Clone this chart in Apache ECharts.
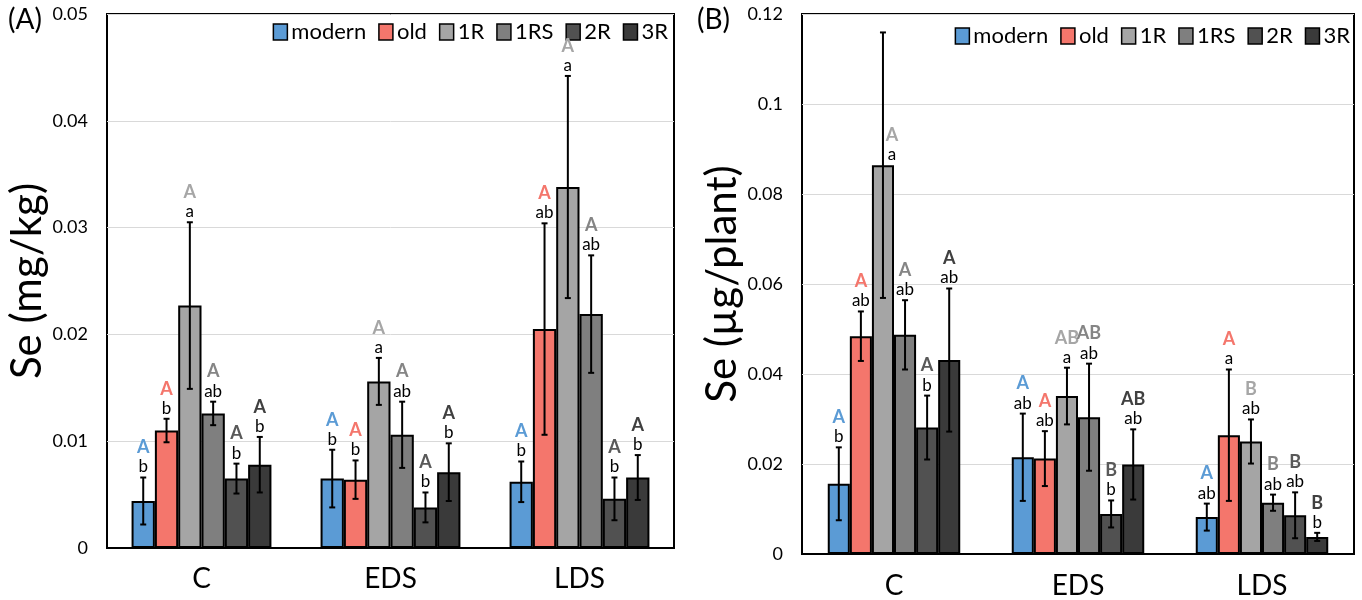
<!DOCTYPE html>
<html>
<head>
<meta charset="utf-8">
<script src="https://cdn.jsdelivr.net/npm/echarts@6/dist/echarts.min.js"></script>
<style>
  html, body { margin: 0; padding: 0; background: #fff; }
  #chart { width: 1362px; height: 600px; }
</style>
</head>
<body>
<div id="chart"></div>
<script>
// categories and groups
const categories = ['C', 'EDS', 'LDS'];
const groups = ['modern', 'old', '1R', '1RS', '2R', '3R'];

// (A) Se concentration (mg/kg), rows = groups, cols = categories
const meanA = [
  [0.0044, 0.0065, 0.0062],
  [0.0110, 0.0064, 0.0205],
  [0.0227, 0.0156, 0.0338],
  [0.0126, 0.0106, 0.0219],
  [0.0065, 0.0038, 0.0046],
  [0.0078, 0.0071, 0.0066]
];
const errA = [
  [0.0022, 0.0027, 0.0019],
  [0.0011, 0.0018, 0.0099],
  [0.0078, 0.0022, 0.0104],
  [0.0011, 0.0031, 0.0055],
  [0.0014, 0.0014, 0.0020],
  [0.0026, 0.0027, 0.0021]
];
const upperA = [
  ['A', 'A', 'A'], ['A', 'A', 'A'], ['A', 'A', 'A'],
  ['A', 'A', 'A'], ['A', 'A', 'A'], ['A', 'A', 'A']
];
const lowerA = [
  ['b', 'b', 'b'], ['b', 'b', 'ab'], ['a', 'a', 'a'],
  ['ab', 'ab', 'ab'], ['b', 'b', 'b'], ['b', 'b', 'b']
];

// (B) Se content (ug/plant)
const meanB = [
  [0.0156, 0.0215, 0.0082],
  [0.0484, 0.0212, 0.0264],
  [0.0864, 0.0351, 0.0250],
  [0.0487, 0.0304, 0.0114],
  [0.0281, 0.0089, 0.0086],
  [0.0431, 0.0199, 0.0038]
];
const errB = [
  [0.0081, 0.0097, 0.0030],
  [0.0055, 0.0061, 0.0146],
  [0.0295, 0.0063, 0.0049],
  [0.0077, 0.0119, 0.0018],
  [0.0071, 0.0030, 0.0051],
  [0.0159, 0.0078, 0.0009]
];
const upperB = [
  ['A', 'A', 'A'], ['A', 'A', 'A'], ['A', 'AB', 'B'],
  ['A', 'AB', 'B'], ['A', 'B', 'B'], ['A', 'AB', 'B']
];
const lowerB = [
  ['b', 'ab', 'ab'], ['ab', 'ab', 'a'], ['a', 'a', 'ab'],
  ['ab', 'ab', 'ab'], ['b', 'b', 'ab'], ['ab', 'ab', 'b']
];

const barColors = ['#5B9BD5', '#F4766C', '#A5A5A5', '#7F7F7F', '#515151', '#3A3A3A'];
const letterColors = ['#5B9BD5', '#F4766C', '#A6A6A6', '#858585', '#595959', '#404040'];
const FONT = 'Lato';

const chart = echarts.init(document.getElementById('chart'));

function barSeries(means, idx) {
  return groups.map(function (g, s) {
    return {
      name: g,
      type: 'bar',
      xAxisIndex: idx,
      yAxisIndex: idx,
      barGap: '0%',
      barCategoryGap: idx === 0 ? '26%' : '28%',
      itemStyle: { color: barColors[s], borderColor: '#000', borderWidth: 2 },
      data: means[s]
    };
  });
}

// error bars + significance letters, placed in the same slots as the bars
function errSeries(means, errs, upper, lower, idx, gapFrac, yMax) {
  const rows = [];
  groups.forEach(function (g, s) {
    categories.forEach(function (c, k) {
      rows.push([k, s, means[s][k], errs[s][k], upper[s][k], lower[s][k]]);
    });
  });
  return {
    type: 'custom',
    xAxisIndex: idx,
    yAxisIndex: idx,
    z: 5,
    encode: { x: 0, y: 2 },
    data: rows,
    renderItem: function (params, api) {
      const k = api.value(0);
      const s = api.value(1);
      const m = api.value(2);
      const e = api.value(3);
      const band = api.size([1, 0])[0];
      const gw = band * (1 - gapFrac);
      const bw = gw / groups.length;
      const hi = api.coord([k, m + e]);
      const lo = api.coord([k, m - e]);
      const bar = api.coord([k, m]);
      const top = api.coord([k, yMax]);
      const x = hi[0] - gw / 2 + (s + 0.5) * bw;
      // letters sit above the error bar, or beside it on the bar top when no room
      let tx = x, ty = hi[1];
      if (hi[1] - 42 < top[1]) { tx = x + 9; ty = bar[1]; }
      const cap = 3;
      const st = { stroke: '#000', lineWidth: 2 };
      return {
        type: 'group',
        children: [
          { type: 'line', shape: { x1: x, y1: hi[1], x2: x, y2: lo[1] }, style: st },
          { type: 'line', shape: { x1: x - cap, y1: hi[1], x2: x + cap, y2: hi[1] }, style: st },
          { type: 'line', shape: { x1: x - cap, y1: lo[1], x2: x + cap, y2: lo[1] }, style: st },
          { type: 'text', x: tx, y: ty - 2,
            style: { text: api.value(5), fill: '#000', font: '17px ' + FONT,
                     align: 'center', verticalAlign: 'bottom' } },
          { type: 'text', x: tx, y: ty - 21,
            style: { text: api.value(4), fill: letterColors[s], font: 'bold 18px ' + FONT,
                     align: 'center', verticalAlign: 'bottom' } }
        ]
      };
    }
  };
}

function yAxis(idx, max, interval, name) {
  return {
    type: 'value',
    gridIndex: idx,
    min: 0,
    max: max,
    interval: interval,
    name: name,
    nameLocation: 'middle',
    nameGap: 41,
    nameTextStyle: { fontFamily: FONT, fontSize: 42, color: '#000' },
    axisLine: { show: false },
    axisTick: { show: false },
    axisLabel: { fontFamily: FONT, fontSize: 18, color: '#000', margin: 19 },
    splitLine: { lineStyle: { color: '#D9D9D9', width: 1 } }
  };
}

function xAxis(idx, margin) {
  return {
    type: 'category',
    gridIndex: idx,
    data: categories,
    axisLine: { lineStyle: { color: '#000', width: 2 } },
    axisTick: { show: false },
    axisLabel: { fontFamily: FONT, fontSize: 28, color: '#000', margin: margin }
  };
}

function legend(right, top) {
  return {
    data: groups,
    right: right,
    top: top,
    width: 500,
    padding: 0,
    icon: 'rect',
    itemWidth: 14,
    itemHeight: 16,
    itemGap: 12,
    selectedMode: false,
    itemStyle: { borderColor: '#000', borderWidth: 1.5 },
    textStyle: { fontFamily: FONT, fontSize: 22, color: '#000', padding: [0, 0, 0, -1] }
  };
}

const option = {
  animation: false,
  grid: [
    { left: 107, right: 688, top: 14, bottom: 52, show: true, borderColor: '#000', borderWidth: 2 },
    { left: 802, right: 8, top: 14, bottom: 43, show: true, borderColor: '#000', borderWidth: 2 }
  ],
  legend: [legend(694, 21), legend(12, 25)],
  xAxis: [xAxis(0, 17), xAxis(1, 18)],
  yAxis: [
    yAxis(0, 0.05, 0.01, 'Se (mg/kg)'),
    yAxis(1, 0.12, 0.02, 'Se (µg/plant)')
  ],
  graphic: [
    { type: 'text', left: 8, top: 6, style: { text: '(A)', font: '28px ' + FONT, fill: '#000' } },
    { type: 'text', left: 697, top: 6, style: { text: '(B)', font: '28px ' + FONT, fill: '#000' } }
  ],
  series: [].concat(
    barSeries(meanA, 0),
    barSeries(meanB, 1),
    [errSeries(meanA, errA, upperA, lowerA, 0, 0.26, 0.05),
     errSeries(meanB, errB, upperB, lowerB, 1, 0.28, 0.12)]
  )
};

chart.setOption(option);
window.addEventListener('resize', function () { chart.resize(); });
</script>
</body>
</html>
